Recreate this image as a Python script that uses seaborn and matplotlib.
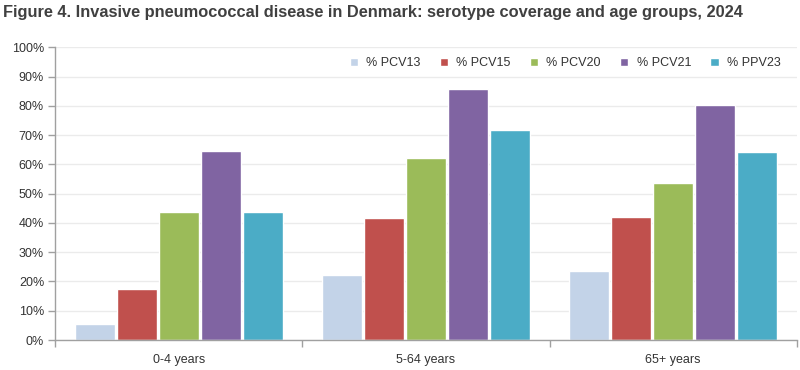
import matplotlib
matplotlib.use("Agg")
import matplotlib.pyplot as plt
import seaborn as sns
import pandas as pd
from matplotlib.ticker import FuncFormatter, FixedLocator

age_groups = ["0-4 years", "5-64 years", "65+ years"]
series = ["% PCV13", "% PCV15", "% PCV20", "% PCV21", "% PPV23"]
pcv13 = [5.5, 22.2, 23.6]
pcv15 = [17.4, 41.7, 42.0]
pcv20 = [43.7, 62.2, 53.6]
pcv21 = [64.7, 85.8, 80.3]
ppv23 = [43.7, 71.7, 64.2]
colors = ["#c3d3e8", "#c0504d", "#9bbb59", "#8064a2", "#4bacc6"]
title = "Figure 4. Invasive pneumococcal disease in Denmark: serotype coverage and age groups, 2024"

rows = []
for s, vals in zip(series, [pcv13, pcv15, pcv20, pcv21, ppv23]):
    for g, v in zip(age_groups, vals):
        rows.append({"age": g, "series": s, "value": v})
df = pd.DataFrame(rows)

sns.set_theme(style="white")
plt.rcParams["font.family"] = ["Liberation Sans", "DejaVu Sans"]

fig = plt.figure(figsize=(8, 3.7), dpi=100)
ax = fig.add_axes([0.069, 0.081, 0.927, 0.791])
sns.barplot(data=df, x="age", y="value", hue="series", order=age_groups,
            hue_order=series, palette=colors, width=0.85, gap=0.05,
            saturation=1, ax=ax, errorbar=None, zorder=2)

ax.set_ylim(0, 100)
ax.set_xlim(-0.5, 2.5)
ax.set_yticks(range(0, 101, 10))
ax.yaxis.set_major_formatter(FuncFormatter(lambda v, p: f"{int(v)}%"))
ax.set_xlabel("")
ax.set_ylabel("")
ax.grid(axis="y", color="#ebebeb", linewidth=1, zorder=0)
ax.set_axisbelow(True)
for side in ["top", "right"]:
    ax.spines[side].set_visible(False)
for side in ["left", "bottom"]:
    ax.spines[side].set_color("#a0a0a0")
    ax.spines[side].set_linewidth(1)
ax.tick_params(axis="y", which="major", length=5, color="#a0a0a0", width=1,
               labelsize=9, labelcolor="#333333", pad=3, left=True)
ax.tick_params(axis="x", which="major", length=0, labelsize=9,
               labelcolor="#333333", pad=10)
ax.xaxis.set_minor_locator(FixedLocator([-0.5, 0.5, 1.5, 2.5]))
ax.tick_params(axis="x", which="minor", length=5, color="#a0a0a0", width=1, bottom=True)

handles, labels = ax.get_legend_handles_labels()
ax.legend(handles, labels, ncol=5, frameon=False, loc="center right",
          bbox_to_anchor=(0.978, 0.945), borderaxespad=0, borderpad=0,
          fontsize=9, handlelength=0.7, handleheight=0.7,
          columnspacing=1.5, handletextpad=0.65, labelcolor="#333333")

fig.text(0.004, 0.965, title, fontsize=11.8, fontweight="bold", color="#404040",
         ha="left", va="center")

fig.savefig("out.png", dpi=100)
